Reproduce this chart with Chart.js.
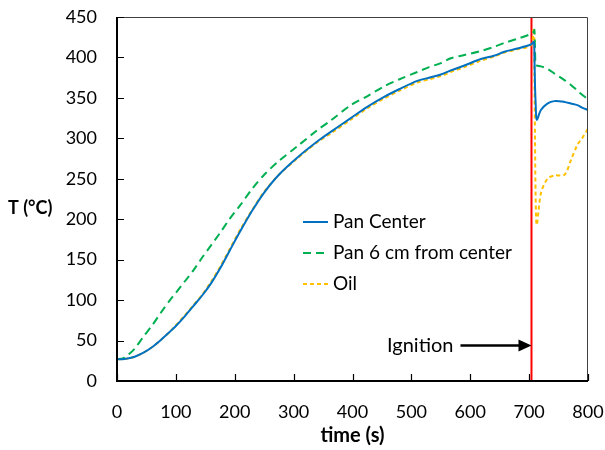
<!DOCTYPE html>
<html>
<head>
<meta charset="utf-8">
<script src="https://cdn.jsdelivr.net/npm/chart.js@4.4.0/dist/chart.umd.min.js"></script>
<style>
  html, body { margin: 0; padding: 0; background: #fff; }
</style>
</head>
<body>
<canvas id="myChart" width="605" height="450"></canvas>
<script>
// time (s)
var times = [0, 10, 20, 30, 45, 60, 75, 90, 100, 115, 130, 145, 160, 175, 192, 210, 230, 250, 275, 306,
  340, 363, 397, 425, 453, 480, 510, 530, 550, 567, 590, 618, 640, 658, 680, 703, 708, 709, 710, 711,
  713, 720, 731, 743, 760, 771, 782, 790, 800];

// temperatures (°C)
var panCenter = [27, 27, 28, 30, 35, 42, 51, 61, 68, 80, 93, 106, 121, 139, 162, 186, 211, 233, 255, 276,
  296, 308, 325, 339, 351, 361, 371, 375, 379, 384, 390, 398, 402, 407, 411, 416, 419, 400, 365, 345,
  323, 335, 343, 346, 345, 343, 341, 338, 335];
var pan6cm = [27, 28, 33, 40, 55, 69, 85, 100, 109, 123, 137, 153, 168, 183, 201, 218, 238, 255, 272, 290,
  310, 322, 341, 352, 364, 373, 382, 388, 393, 399, 403, 408, 413, 418, 423, 429, 432, 434, 410, 391,
  390, 389, 386, 380, 372, 366, 359, 354, 348];
var oil = [27, 27, 28, 30, 35, 42, 51, 61, 69, 81, 94, 107, 123, 141, 164, 188, 212, 234, 255, 275,
  295, 306, 323, 337, 349, 359, 369, 373, 377, 382, 388, 396, 401, 406, 410, 415, 436, 380, 300, 230,
  193, 232, 250, 254, 255, 273, 292, 300, 312];

var seriesNames = ["Pan Center", "Pan 6 cm from center", "Oil"];
var ignitionTime = 704;
var xTicks = [0, 100, 200, 300, 400, 500, 600, 700, 800];
var yTicks = [0, 50, 100, 150, 200, 250, 300, 350, 400, 450];

var FONT = "Lato, 'Open Sans', sans-serif";

function pts(vals) {
  return vals.map(function (v, i) { return { x: times[i], y: v }; });
}

const ctx = document.getElementById("myChart");

// inner ticks, frame, y title, legend, ignition label
const extras = {
  id: "extras",
  afterDatasetsDraw(chart) {
    const { ctx, chartArea: a, scales: { x, y } } = chart;
    ctx.save();
    // frame
    ctx.strokeStyle = "#404040";
    ctx.lineWidth = 1;
    ctx.beginPath();
    ctx.moveTo(a.left, a.top + 0.5);
    ctx.lineTo(a.right - 0.5, a.top + 0.5);
    ctx.lineTo(a.right - 0.5, a.bottom);
    ctx.stroke();
    ctx.strokeStyle = "#000";
    ctx.lineWidth = 2;
    ctx.beginPath();
    ctx.moveTo(a.left, a.top);
    ctx.lineTo(a.left, a.bottom);
    ctx.lineTo(a.right, a.bottom);
    ctx.stroke();
    // ticks pointing inward
    ctx.lineWidth = 1.2;
    ctx.beginPath();
    xTicks.forEach(function (t) {
      const px = Math.round(x.getPixelForValue(t)) + 0.5;
      ctx.moveTo(px, a.bottom);
      ctx.lineTo(px, a.bottom - 7);
    });
    yTicks.forEach(function (t) {
      const py = Math.round(y.getPixelForValue(t)) + 0.5;
      ctx.moveTo(a.left, py);
      ctx.lineTo(a.left + 7, py);
    });
    ctx.stroke();

    // y title, horizontal
    ctx.fillStyle = "#000";
    ctx.font = "bold 18px " + FONT;
    ctx.textAlign = "left";
    ctx.textBaseline = "middle";
    ctx.fillText("T (°C)", 8, 208);

    // legend
    ctx.font = "19px " + FONT;
    for (let i = 0; i < 3; i++) {
      const ds = chart.data.datasets[i];
      const ly = 222 + i * 31;
      ctx.strokeStyle = ds.borderColor;
      ctx.lineWidth = ds.borderWidth;
      ctx.setLineDash(ds.borderDash || []);
      ctx.beginPath();
      ctx.moveTo(303, ly);
      ctx.lineTo(328, ly);
      ctx.stroke();
      ctx.setLineDash([]);
      ctx.fillStyle = "#000";
      ctx.fillText(seriesNames[i], 333, ly);
    }

    // ignition arrow
    const ix = x.getPixelForValue(ignitionTime);
    const iy = y.getPixelForValue(44);
    ctx.strokeStyle = "#000";
    ctx.fillStyle = "#000";
    ctx.lineWidth = 2.5;
    ctx.beginPath();
    ctx.moveTo(ix - 71, iy);
    ctx.lineTo(ix - 12, iy);
    ctx.stroke();
    ctx.beginPath();
    ctx.moveTo(ix, iy);
    ctx.lineTo(ix - 13, iy - 6);
    ctx.lineTo(ix - 13, iy + 6);
    ctx.closePath();
    ctx.fill();
    ctx.font = "20px " + FONT;
    ctx.textAlign = "right";
    ctx.fillText("Ignition", ix - 78, iy);
    ctx.restore();
  },
};

function noPad(s) {
  s.paddingTop = 0;
  s.paddingBottom = 0;
  s.paddingLeft = 0;
  s.paddingRight = 0;
}

const config = {
  type: "line",
  data: {
    datasets: [
      {
        label: seriesNames[0],
        data: pts(panCenter),
        borderColor: "#0070C0",
        borderWidth: 2,
        pointRadius: 0,
        tension: 0.3,
      },
      {
        label: seriesNames[1],
        data: pts(pan6cm),
        borderColor: "#00B050",
        borderWidth: 2,
        borderDash: [8, 5],
        pointRadius: 0,
        tension: 0.3,
      },
      {
        label: seriesNames[2],
        data: pts(oil),
        borderColor: "#FFC000",
        borderWidth: 2,
        borderDash: [4, 3],
        pointRadius: 0,
        tension: 0.3,
      },
      {
        label: "ignition",
        data: [{ x: ignitionTime, y: 0 }, { x: ignitionTime, y: 450 }],
        borderColor: "#FF0000",
        borderWidth: 2,
        pointRadius: 0,
      },
    ],
  },
  options: {
    responsive: false,
    animation: false,
    layout: { padding: { top: 17, right: 17, left: 0, bottom: 0 } },
    plugins: { legend: { display: false }, tooltip: { enabled: false } },
    scales: {
      x: {
        type: "linear",
        min: 0,
        max: 800,
        afterFit: function (s) { s.height = 69; noPad(s); },
        afterBuildTicks: function (s) { s.ticks = xTicks.map(function (v) { return { value: v }; }); },
        grid: { display: false, drawTicks: false },
        border: { display: false },
        ticks: { color: "#000", padding: 20, font: { family: FONT, size: 18 } },
        title: {
          display: true,
          text: "time (s)",
          color: "#000",
          padding: { top: 0, bottom: 2 },
          font: { family: FONT, size: 20, weight: "bold" },
        },
      },
      y: {
        min: 0,
        max: 450,
        afterFit: function (s) { s.width = 117; noPad(s); },
        afterBuildTicks: function (s) { s.ticks = yTicks.map(function (v) { return { value: v }; }); },
        grid: { display: false, drawTicks: false },
        border: { display: false },
        ticks: { color: "#000", padding: 20, font: { family: FONT, size: 18 } },
      },
    },
  },
  plugins: [extras],
};

var chart = new Chart(ctx, config);
</script>
</body>
</html>
